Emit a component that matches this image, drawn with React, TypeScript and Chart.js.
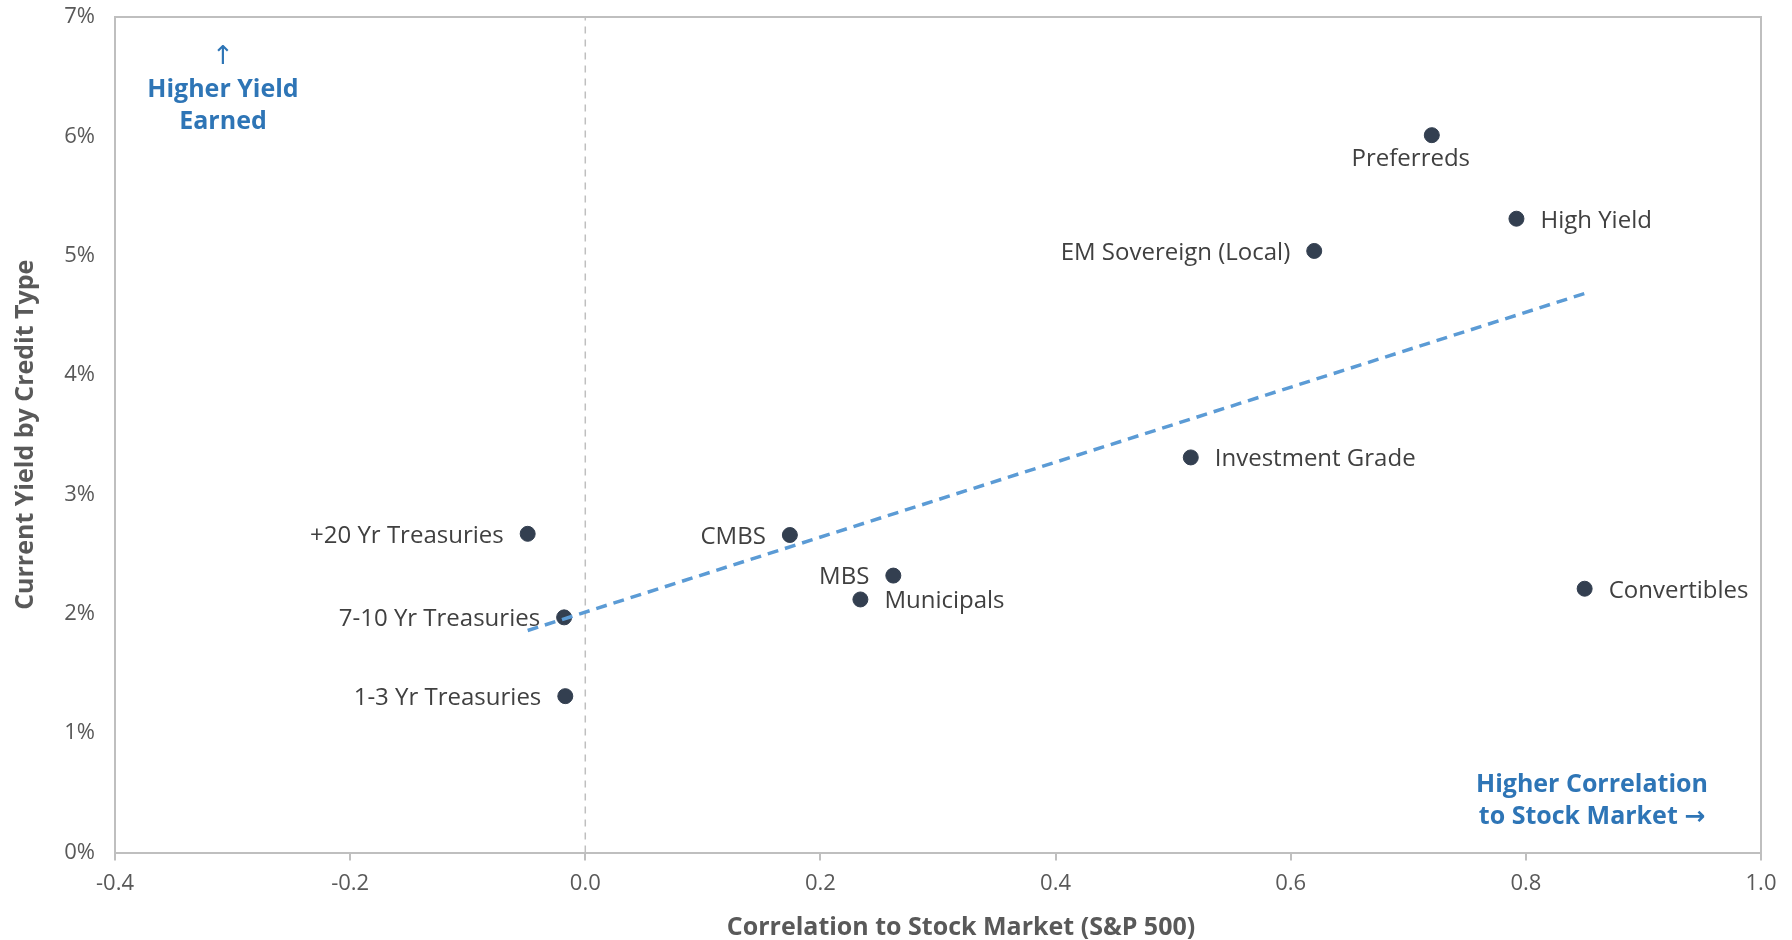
import React, { useEffect, useRef } from "react";
import { Chart, registerables } from "chart.js";

Chart.register(...registerables);

const FONT = "'Open Sans', 'DejaVu Sans', sans-serif";

const names = [
  "Preferreds",
  "High Yield",
  "EM Sovereign (Local)",
  "Investment Grade",
  "+20 Yr Treasuries",
  "CMBS",
  "MBS",
  "Municipals",
  "Convertibles",
  "7-10 Yr Treasuries",
  "1-3 Yr Treasuries",
];
const correlations = [0.72, 0.792, 0.62, 0.515, -0.049, 0.174, 0.262, 0.234, 0.85, -0.018, -0.017];
const yields = [6.01, 5.31, 5.04, 3.31, 2.67, 2.66, 2.32, 2.12, 2.21, 1.97, 1.31];

const trendX = [-0.049, 0.852];
const trendY = [1.86, 4.69];

const zeroLineX = [0, 0];
const zeroLineY = [0, 7];

const xMin = -0.4;
const xMax = 1.0;
const xStep = 0.2;
const yMin = 0;
const yMax = 7;
const yStep = 1;

const xTitle = "Correlation to Stock Market (S&P 500)";
const yTitle = "Current Yield by Credit Type";
const topNote = ["↑", "Higher Yield", "Earned"];
const bottomNote = ["Higher Correlation", "to Stock Market →"];

// label placement per point (style, not data)
const labelSide: Record<string, string> = {
  Preferreds: "below",
  "High Yield": "right",
  "EM Sovereign (Local)": "left",
  "Investment Grade": "right",
  "+20 Yr Treasuries": "left",
  CMBS: "left",
  MBS: "left",
  Municipals: "right",
  Convertibles: "right",
  "7-10 Yr Treasuries": "left",
  "1-3 Yr Treasuries": "left",
};

const overlayPlugin = {
  id: "overlay",
  afterDatasetsDraw(chart: any) {
    const { ctx, chartArea } = chart;
    const meta = chart.getDatasetMeta(2);
    ctx.save();
    // frame (top & right)
    ctx.strokeStyle = "#BFBFBF";
    ctx.lineWidth = 2;
    ctx.beginPath();
    ctx.moveTo(chartArea.left, chartArea.top);
    ctx.lineTo(chartArea.right, chartArea.top);
    ctx.lineTo(chartArea.right, chartArea.bottom);
    ctx.stroke();

    // point labels
    ctx.font = `24px ${FONT}`;
    ctx.fillStyle = "#404040";
    ctx.textBaseline = "middle";
    meta.data.forEach((el: any, i: number) => {
      const name = names[i];
      const side = labelSide[name];
      const gap = 24;
      if (side === "left") {
        ctx.textAlign = "right";
        ctx.fillText(name, el.x - gap, el.y + 2);
      } else if (side === "right") {
        ctx.textAlign = "left";
        ctx.fillText(name, el.x + gap, el.y + 2);
      } else {
        ctx.textAlign = "center";
        ctx.fillText(name, el.x - 21, el.y + 24);
      }
    });

    // x axis title
    ctx.fillStyle = "#595959";
    ctx.textAlign = "center";
    ctx.font = `bold 25px ${FONT}`;
    ctx.fillText(xTitle, chartArea.left + 846, chart.height - 12);

    // annotations
    ctx.fillStyle = "#2E75B6";
    const tx = chartArea.left + 108;
    ctx.font = `26px 'DejaVu Sans', sans-serif`;
    ctx.fillText(topNote[0], tx, chartArea.top + 40);
    ctx.font = `bold 25px ${FONT}`;
    ctx.fillText(topNote[1], tx, chartArea.top + 73);
    ctx.fillText(topNote[2], tx, chartArea.top + 105);

    const bx = chartArea.right - 169;
    ctx.fillText(bottomNote[0], bx, chartArea.bottom - 68);
    ctx.fillText(bottomNote[1], bx, chartArea.bottom - 36);
    ctx.restore();
  },
};

export default function App() {
  const ref = useRef<HTMLCanvasElement>(null);

  useEffect(() => {
    document.body.style.margin = "0";
    const canvas = ref.current;
    if (!canvas) return;
    const chart = new Chart(canvas, {
      type: "scatter",
      data: {
        datasets: [
          {
            type: "line",
            data: zeroLineX.map((x, i) => ({ x, y: zeroLineY[i] })),
            borderColor: "#BFBFBF",
            borderWidth: 1.5,
            borderDash: [7, 6],
            pointRadius: 0,
            order: 3,
          } as any,
          {
            type: "line",
            data: trendX.map((x, i) => ({ x, y: trendY[i] })),
            borderColor: "#5B9BD5",
            borderWidth: 3.5,
            borderDash: [11, 7],
            pointRadius: 0,
            order: 0,
          } as any,
          {
            data: correlations.map((x, i) => ({ x, y: yields[i] })),
            backgroundColor: "#333F50",
            borderColor: "#333F50",
            pointRadius: 7.5,
            pointHoverRadius: 7.5,
            order: 1,
          },
        ],
      },
      options: {
        animation: false,
        responsive: false,
        devicePixelRatio: 1,
        layout: { padding: { top: 17, right: 31, left: 0, bottom: 0 } },
        plugins: { legend: { display: false }, tooltip: { enabled: false } },
        scales: {
          x: {
            type: "linear",
            min: xMin,
            max: xMax,
            afterFit: (s: any) => {
              s.height = 87.5;
            },
            ticks: {
              stepSize: xStep,
              color: "#595959",
              font: { family: FONT, size: 22 },
              padding: 10,
              callback: (v: any) => {
                const n = Number(v);
                return (Math.abs(n) < 1e-9 ? 0 : n).toFixed(1);
              },
            },
            grid: {
              display: true,
              drawOnChartArea: false,
              drawTicks: true,
              tickLength: 8,
              color: "#BFBFBF",
              lineWidth: 2,
            },
            border: { display: true, color: "#BFBFBF", width: 2 },
            title: { display: false },
          },
          y: {
            type: "linear",
            min: yMin,
            max: yMax,
            afterFit: (s: any) => {
              s.width = 115;
              s.paddingTop = 0;
              s.paddingBottom = 0;
            },
            ticks: {
              stepSize: yStep,
              color: "#595959",
              font: { family: FONT, size: 22 },
              padding: 20,
              callback: (v: any) => `${v}%`,
            },
            grid: { display: false, drawTicks: false },
            border: { display: true, color: "#BFBFBF", width: 2 },
            title: {
              display: true,
              text: yTitle,
              color: "#595959",
              font: { family: FONT, size: 25, weight: "bold" },
              padding: { top: 11, bottom: 0 },
            },
          },
        },
      },
      plugins: [overlayPlugin],
    });
    return () => chart.destroy();
  }, []);

  return (
    <div style={{ width: 1792, height: 940, background: "#fff" }}>
      <canvas ref={ref} width={1792} height={940} />
    </div>
  );
}
